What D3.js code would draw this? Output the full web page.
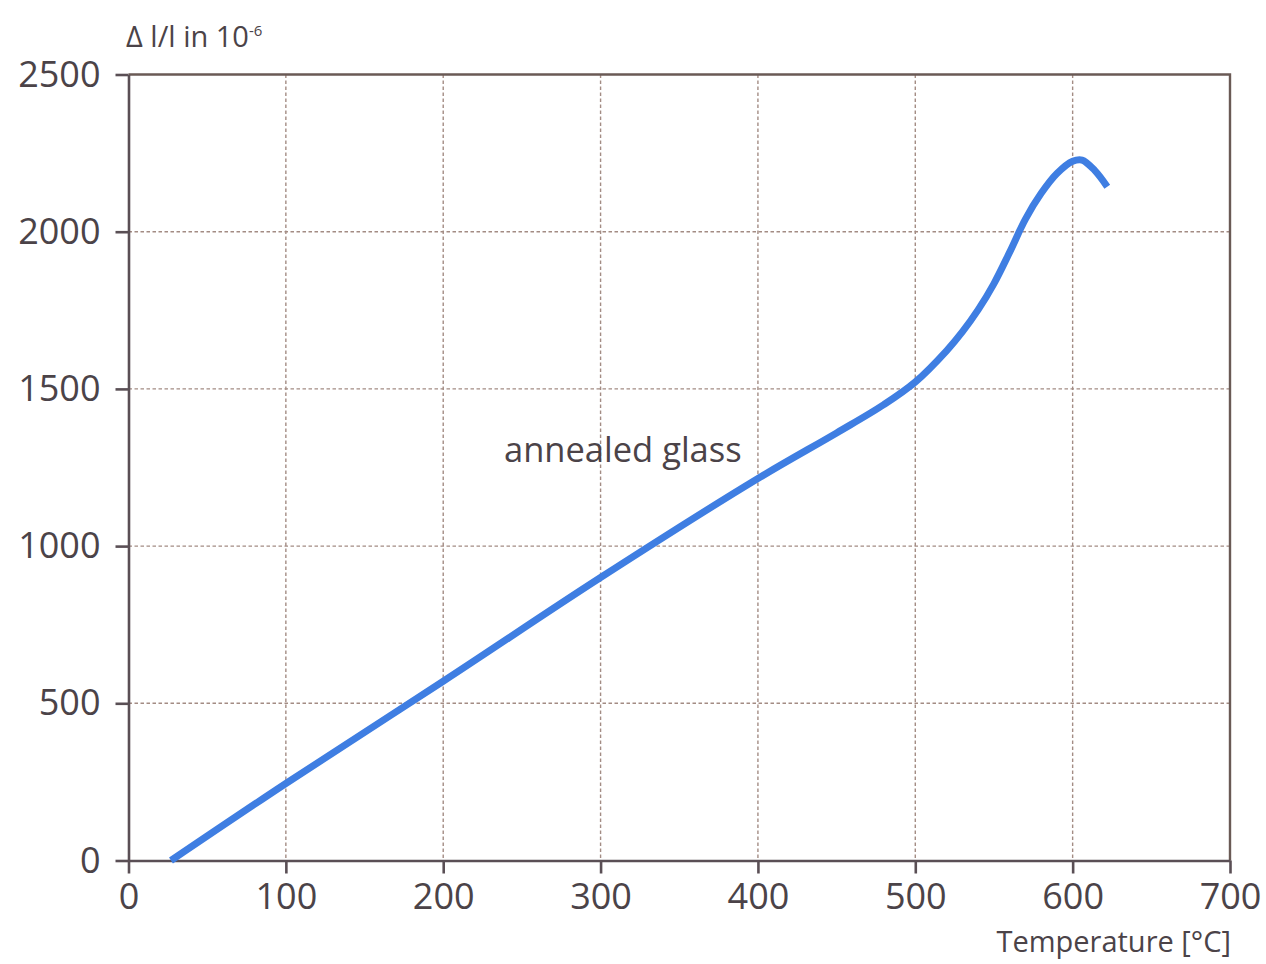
<!DOCTYPE html>
<html>
<head>
<meta charset="utf-8">
<script src="https://cdn.jsdelivr.net/npm/d3@7"></script>
<style>
  html, body { margin: 0; padding: 0; background: #fff; }
  svg { display: block; }
  text { font-family: "Open Sans", "Noto Sans", sans-serif; fill: #4b4348; }
</style>
</head>
<body>
<svg id="chart" width="1266" height="964"></svg>
<script>
// Thermal expansion of annealed glass: temperature (°C) vs Δl/l (10^-6)
const temperature = [27, 100, 200, 300, 400, 450, 480, 500, 520, 530, 540, 550, 560, 570, 580, 590, 600, 606, 614, 622];
const expansion   = [0, 245, 570, 900, 1215, 1360, 1450, 1522, 1622, 1682, 1752, 1835, 1935, 2040, 2122, 2185, 2224, 2228, 2195, 2143];

const xTicks = [0, 100, 200, 300, 400, 500, 600, 700];
const yTicks = [0, 500, 1000, 1500, 2000, 2500];

const seriesLabel = "annealed glass";
const xTitle = "Temperature [°C]";

const svg = d3.select("#chart");
const m = { left: 128.5, right: 1230, top: 74.5, bottom: 860.5 };

const x = d3.scaleLinear().domain([0, 700]).range([m.left, m.right]);
const y = d3.scaleLinear().domain([0, 2500]).range([m.bottom, m.top]);

// dashed grid
const grid = svg.append("g").attr("stroke", "#a38c84").attr("stroke-width", 1.4)
  .attr("stroke-dasharray", "3.5,2.5");
grid.selectAll("line.v").data(xTicks.slice(1, -1)).join("line")
  .attr("x1", d => x(d)).attr("x2", d => x(d))
  .attr("y1", m.top).attr("y2", m.bottom);
grid.selectAll("line.h").data(yTicks.slice(1, -1)).join("line")
  .attr("x1", m.left).attr("x2", m.right)
  .attr("y1", d => y(d)).attr("y2", d => y(d));

// frame: top and right edges
svg.append("path")
  .attr("d", `M${m.left},${m.top}H${m.right}V${m.bottom}`)
  .attr("fill", "none").attr("stroke", "#6a5a55").attr("stroke-width", 2.4);

// axes
const axisColor = "#5a4f55";
const fmt = d3.format("d");
const gx = svg.append("g").attr("transform", `translate(0,${m.bottom})`)
  .call(d3.axisBottom(x).tickValues(xTicks).tickFormat(fmt).tickSize(13).tickSizeOuter(0).tickPadding(14));
const gy = svg.append("g").attr("transform", `translate(${m.left},0)`)
  .call(d3.axisLeft(y).tickValues(yTicks).tickFormat(fmt).tickSize(13).tickSizeOuter(0).tickPadding(15));
[gx, gy].forEach(g => {
  g.select(".domain").attr("stroke", axisColor).attr("stroke-width", 2.6);
  g.selectAll(".tick line").attr("stroke", axisColor).attr("stroke-width", 2.6);
  g.selectAll(".tick text").attr("fill", "#4b4348")
    .style("font-family", '"Open Sans", "Noto Sans", sans-serif').style("font-size", "36px");
});
gx.selectAll(".tick text").attr("dy", "0.6em");

// expansion curve
const line = d3.line().x((d, i) => x(temperature[i])).y(d => y(d)).curve(d3.curveCatmullRom.alpha(0.5));
svg.append("path").datum(expansion)
  .attr("d", line)
  .attr("fill", "none").attr("stroke", "#3f7ee2").attr("stroke-width", 7)
  .attr("stroke-linecap", "butt").attr("stroke-linejoin", "round");

// labels
const yTitle = svg.append("text").attr("x", 126).attr("y", 47).style("font-size", "29px");
yTitle.append("tspan").text("Δ l/l in 10");
yTitle.append("tspan").text("-6").attr("dy", -11).style("font-size", "15px");

svg.append("text").attr("x", 504).attr("y", 462).style("font-size", "34.5px").text(seriesLabel);
svg.append("text").attr("x", 1231).attr("y", 952).attr("text-anchor", "end")
  .style("font-size", "29px").text(xTitle);
</script>
</body>
</html>
